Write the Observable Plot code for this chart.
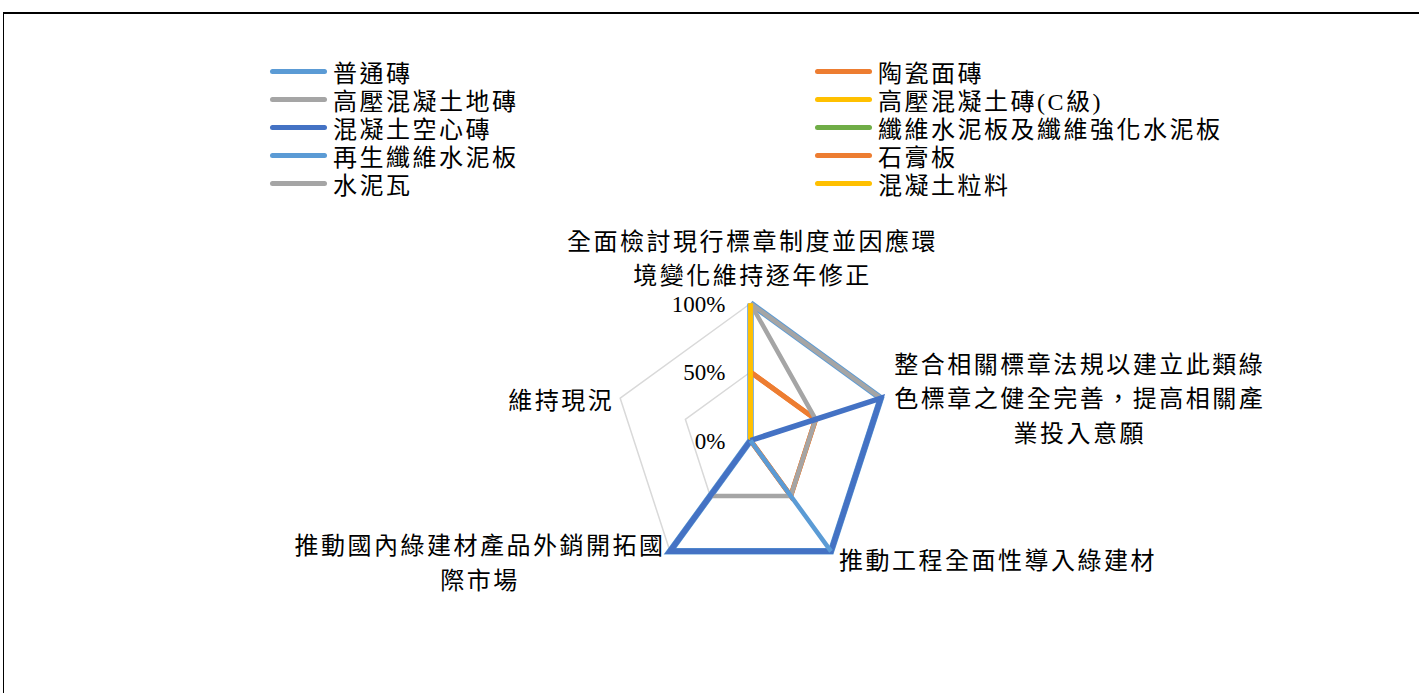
<!DOCTYPE html>
<html>
<head>
<meta charset="utf-8">
<script src="https://cdn.jsdelivr.net/npm/d3@7"></script>
<script src="https://cdn.jsdelivr.net/npm/@observablehq/plot@0.6"></script>
<style>
  html, body { margin: 0; padding: 0; background: #fff; width: 1419px; height: 693px; overflow: hidden; }
  body { position: relative; font-family: "Liberation Serif", "Noto Sans CJK TC", serif; }
  #frame { position: absolute; left: 3px; top: 12px; width: 1500px; height: 800px;
           border-top: 2px solid #000; border-left: 1px solid #000; box-sizing: border-box; }
  #legend { position: absolute; left: 270px; top: 57px; display: grid;
            grid-template-columns: 545px 500px; grid-auto-rows: 28px; }
  .item { display: flex; align-items: center; font-size: 24px; letter-spacing: 2.5px; color: #000; white-space: nowrap; }
  .sw { display: inline-block; width: 57px; height: 5px; border-radius: 3px; margin-right: 6px; }
  #chart { position: absolute; left: 0; top: 200px; }
</style>
</head>
<body>
<div id="frame"></div>
<div id="legend"></div>
<div id="chart"></div>
<script>
// ---- data ----
const axisLabels = [
  "全面檢討現行標章制度並因應環\n境變化維持逐年修正",
  "整合相關標章法規以建立此類綠\n色標章之健全完善，提高相關產\n業投入意願",
  "推動工程全面性導入綠建材",
  "推動國內綠建材產品外銷開拓國\n際市場",
  "維持現況"
];
const seriesNames = [
  "普通磚", "陶瓷面磚", "高壓混凝土地磚", "高壓混凝土磚(C級)", "混凝土空心磚",
  "纖維水泥板及纖維強化水泥板", "再生纖維水泥板", "石膏板", "水泥瓦", "混凝土粒料"
];
const seriesColors = [
  "#5B9BD5", "#ED7D31", "#A5A5A5", "#FFC000", "#4472C4",
  "#70AD47", "#5B9BD5", "#ED7D31", "#A5A5A5", "#FFC000"
];
// values (%) on the five axes, in axisLabels order
const seriesValues = [
  [100, 100, 100, 100, 0],  // 普通磚
  [50, 50, 50, 0, 0],       // 陶瓷面磚
  [100, 100, 100, 100, 0],  // 高壓混凝土地磚
  [100, 0, 0, 0, 0],        // 高壓混凝土磚(C級)
  [0, 100, 100, 100, 0],    // 混凝土空心磚
  [0, 0, 0, 0, 0],          // 纖維水泥板及纖維強化水泥板
  [0, 0, 100, 0, 0],        // 再生纖維水泥板
  [50, 50, 50, 0, 0],       // 石膏板
  [100, 50, 50, 50, 0],     // 水泥瓦
  [100, 0, 0, 0, 0]         // 混凝土粒料
];
const seriesWidths = [6.5, 5, 4.5, 4.5, 5.5, 5, 4.5, 5, 4.5, 4.5];
// order in which the series are stacked (bottom first)
const drawOrder = [0, 2, 5, 1, 7, 8, 3, 9, 4, 6];
const gridLevels = [0, 50, 100];
const tickLabels = ["0%", "50%", "100%"];

// ---- geometry helpers ----
const n = axisLabels.length;
const ang = i => (i % n) * 2 * Math.PI / n;
const px = (r, i) => r * Math.sin(ang(i));
const py = (r, i) => r * Math.cos(ang(i));
const k = 1.37; // px per percent unit
const W = 1419, H = 493, cx = 750, cy = 240;

const gridRows = gridLevels.filter(l => l > 0).flatMap(l =>
  d3.range(n + 1).map(i => ({level: l, x: px(l, i), y: py(l, i)})));

const seriesLine = s => {
  const rows = d3.range(n + 1).map(i => ({x: px(seriesValues[s][i % n], i), y: py(seriesValues[s][i % n], i)}));
  return Plot.line(rows, {x: "x", y: "y", stroke: seriesColors[s], strokeWidth: seriesWidths[s],
                          strokeLinejoin: "miter", strokeLinecap: "butt", strokeMiterlimit: 10});
};

const font = "'Liberation Serif', 'Noto Sans CJK TC', serif";
const axisText = (i, opts) => Plot.text([i], {
  x: d => px(100, d), y: d => py(100, d), text: d => axisLabels[d],
  fontSize: 24, fontFamily: font, fill: "#000", lineHeight: 1.45, ...opts
});

const chart = Plot.plot({
  width: W, height: H, margin: 0,
  x: {domain: [-cx / k, (W - cx) / k], axis: null},
  y: {domain: [-(H - cy) / k, cy / k], axis: null},
  style: {background: "transparent", fontFamily: font, overflow: "visible"},
  marks: [
    Plot.line(gridRows, {x: "x", y: "y", z: "level", stroke: "#D9D9D9", strokeWidth: 1.5}),
    ...drawOrder.map(seriesLine),
    Plot.text(gridLevels, {x: () => 0, y: d => d, text: (d, i) => tickLabels[i], textAnchor: "end", dx: -25, dy: 1,
                           fontSize: 23, fontFamily: "'Liberation Serif', serif", fill: "#000", ariaLabel: "ticks"}),
    axisText(0, {textAnchor: "middle", lineAnchor: "middle", dx: 2, dy: -47, lineHeight: 1.4}),
    axisText(1, {textAnchor: "middle", lineAnchor: "middle", dx: 199, dy: -2}),
    axisText(2, {textAnchor: "start", lineAnchor: "middle", dx: 8, dy: 7}),
    axisText(3, {textAnchor: "middle", lineAnchor: "middle", dx: -190, dy: 9}),
    axisText(4, {textAnchor: "end", lineAnchor: "middle", dx: -6, dy: 0})
  ]
});
d3.select(chart).selectAll("text").style("letter-spacing", function() {
  return /%/.test(this.textContent) ? "0px" : "2.5px";
});
document.getElementById("chart").appendChild(chart);

// ---- legend ----
const legend = d3.select("#legend");
seriesNames.forEach((name, s) => {
  const item = legend.append("div").attr("class", "item");
  item.append("span").attr("class", "sw").style("background", seriesColors[s]);
  item.append("span").text(name);
});
</script>
</body>
</html>
